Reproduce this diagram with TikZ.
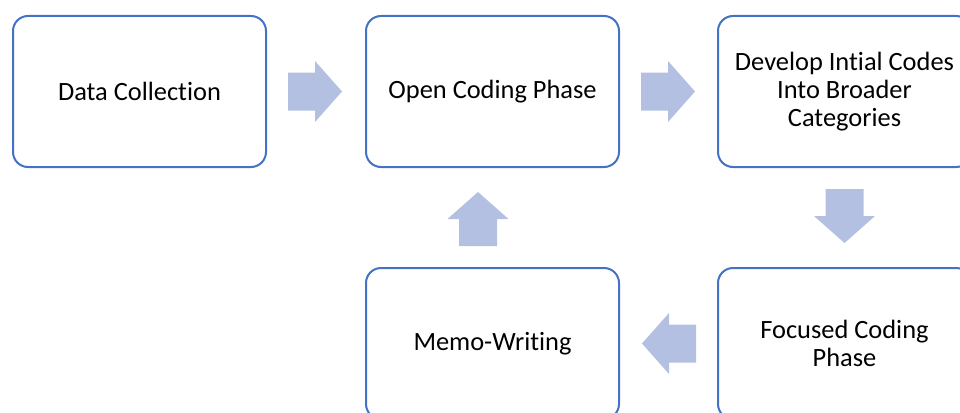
\documentclass[tikz,border=0pt]{standalone}
\usepackage{fontspec}
\setmainfont[Ligatures=NoCommon]{Carlito}
\usetikzlibrary{calc}
\definecolor{boxblue}{HTML}{4472C4}
\definecolor{arrowblue}{HTML}{B3C0E1}
\tikzset{
  stagebox/.style={draw=boxblue, line width=2pt, rounded corners=15pt, fill=white,
    minimum width=253pt, minimum height=151pt, align=center, inner sep=0pt,
    font=\fontsize{26.4}{28.3}\selectfont},
  blockarrow/.pic={\fill[arrowblue] (-27pt,-19pt) -- (0pt,-19pt) -- (0pt,-30.5pt) -- (27pt,0pt)
    -- (0pt,30.5pt) -- (0pt,19pt) -- (-27pt,19pt) -- cycle;}
}
\begin{document}
\begin{tikzpicture}[x=1pt,y=-1pt]
\useasboundingbox (0,0) rectangle (960,412);
\clip (0,0) rectangle (960,412);
\node[stagebox] (dc) at (139.5,91.5) {Data Collection};
\node[stagebox] (oc) at (492.5,91.5) {Open Coding Phase};
\node[stagebox] (dv) at (844.5,91.5) {Develop Intial Codes\\Into Broader\\Categories};
\node[stagebox] (fc) at (844.5,343.5) {Focused Coding\\Phase};
\node[stagebox] (mw) at (492.5,343.5) {Memo-Writing};
\coordinate (a1) at ($(dc.east)!48pt!(oc.west)$);
\coordinate (a2) at ($(oc.east)!48pt!(dv.west)$);
\coordinate (a3) at ($(dv.south)!48pt!(fc.north)$);
\coordinate (a4) at ($(fc.west)!48pt!(mw.east)$);
\coordinate (a5) at ($(mw.north)!48pt!(oc.south)+(-14.5pt,0pt)$);
\path (a1) pic {blockarrow};
\path (a2) pic {blockarrow};
\path (a3) pic[rotate=-90] {blockarrow};
\path (a4) pic[rotate=180] {blockarrow};
\path (a5) pic[rotate=90] {blockarrow};
\end{tikzpicture}
\end{document}
